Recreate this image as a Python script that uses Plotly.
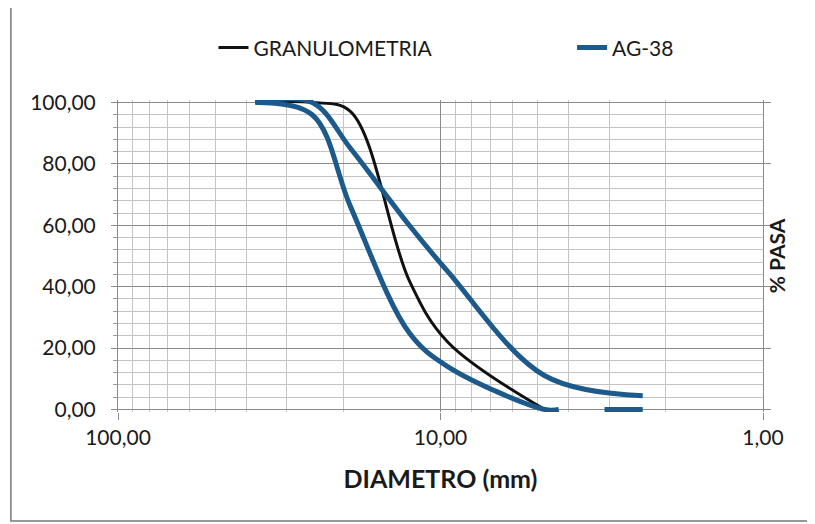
import plotly.graph_objects as go

# Sieve sizes (mm) and % passing
granulo_size = [37.5, 25, 19, 12.5, 9.5, 4.75]
granulo_pass = [100, 100, 97, 42, 22, 0]

ag38_upper_size = [37.5, 25, 19, 12.5, 9.5, 4.75, 2.36]
ag38_upper_pass = [100, 100, 85, 60, 45, 11, 4.5]

ag38_lower_size = [37.5, 25, 19, 12.5, 9.5, 4.75, 4.3, None, 3.1, 2.36]
ag38_lower_pass = [100, 96, 66, 25, 14, 0, 0, None, 0, 0]

x_ticks = [100, 10, 1]
x_minor = [90, 80, 70, 60, 50, 40, 30, 20, 9, 8, 7, 6, 5, 4, 3, 2]
y_ticks = [0, 20, 40, 60, 80, 100]

BLUE = "#1d5a8c"
FONT = "Lato"
SMOOTH = 1.0

fig = go.Figure()
fig.add_trace(go.Scatter(x=granulo_size, y=granulo_pass, mode="lines", name="GRANULOMETRIA",
                         legend="legend",
                         line=dict(color="#111111", width=3, shape="spline", smoothing=SMOOTH)))
fig.add_trace(go.Scatter(x=ag38_upper_size, y=ag38_upper_pass, mode="lines", name="AG-38",
                         legend="legend2",
                         line=dict(color=BLUE, width=5, shape="spline", smoothing=SMOOTH)))
fig.add_trace(go.Scatter(x=ag38_lower_size, y=ag38_lower_pass, mode="lines", name="AG-38",
                         showlegend=False, connectgaps=False,
                         line=dict(color=BLUE, width=5, shape="spline", smoothing=SMOOTH)))
# invisible trace to carry the right-hand axis
fig.add_trace(go.Scatter(x=[10], y=[50], yaxis="y2", mode="lines", showlegend=False,
                         hoverinfo="skip", line=dict(width=0)))

legend_style = dict(orientation="h", y=1.167, xanchor="left", yanchor="middle",
                    font=dict(size=21), bgcolor="rgba(0,0,0,0)")

# the page body adds an 8 px offset, so the figure is sized to fill the window
fig.update_layout(
    width=807, height=516,
    margin=dict(l=110, r=52, t=92, b=112, autoexpand=False),
    paper_bgcolor="white", plot_bgcolor="white",
    separators=",.",
    font=dict(family=FONT, size=21, color="#1a1a1a"),
    showlegend=True,
    legend=dict(x=0.148, **legend_style),
    legend2=dict(x=0.704, **legend_style),
    xaxis=dict(type="log", range=[2, 0], tickvals=x_ticks, tickformat=".2f",
               showgrid=True, gridcolor="#8a8a8a", gridwidth=1,
               minor=dict(tickvals=x_minor, showgrid=True, gridcolor="#c4c4c4", gridwidth=1),
               ticks="outside", ticklen=7, tickcolor="#8a8a8a",
               showline=False, zeroline=False,
               title=dict(text="<b>DIAMETRO (mm)</b>", standoff=22)),
    yaxis=dict(range=[-0.8, 100.8], tickvals=y_ticks, tickformat=".2f",
               showgrid=True, gridcolor="#8a8a8a", gridwidth=1,
               minor=dict(dtick=4, tick0=0, showgrid=True, gridcolor="#c4c4c4", gridwidth=1,
                          ticks="outside", ticklen=4, tickcolor="#999"),
               ticks="outside", ticklen=6, tickcolor="#8a8a8a",
               showline=True, linecolor="#8a8a8a", linewidth=1,
               zeroline=True, zerolinecolor="#8a8a8a", zerolinewidth=1,
               ticklabelstandoff=11),
    yaxis2=dict(overlaying="y", side="right", range=[-0.8, 100.8],
                tickvals=y_ticks, showticklabels=False,
                ticks="outside", ticklen=7, tickcolor="#8a8a8a",
                showgrid=False, zeroline=False,
                showline=True, linecolor="#8a8a8a", linewidth=1,
                title=dict(text="<b>% PASA</b>", standoff=0, font=dict(size=21))),
    # chart-area frame (open on the right, as in the scanned original)
    shapes=[dict(type="path", xref="paper", yref="paper",
                 path="M 1.2,-0.349 L -0.166,-0.349 L -0.166,1.298 L 1.2,1.298",
                 line=dict(color="#777", width=1.5), layer="below")],
)

fig.write_html("out.html")
